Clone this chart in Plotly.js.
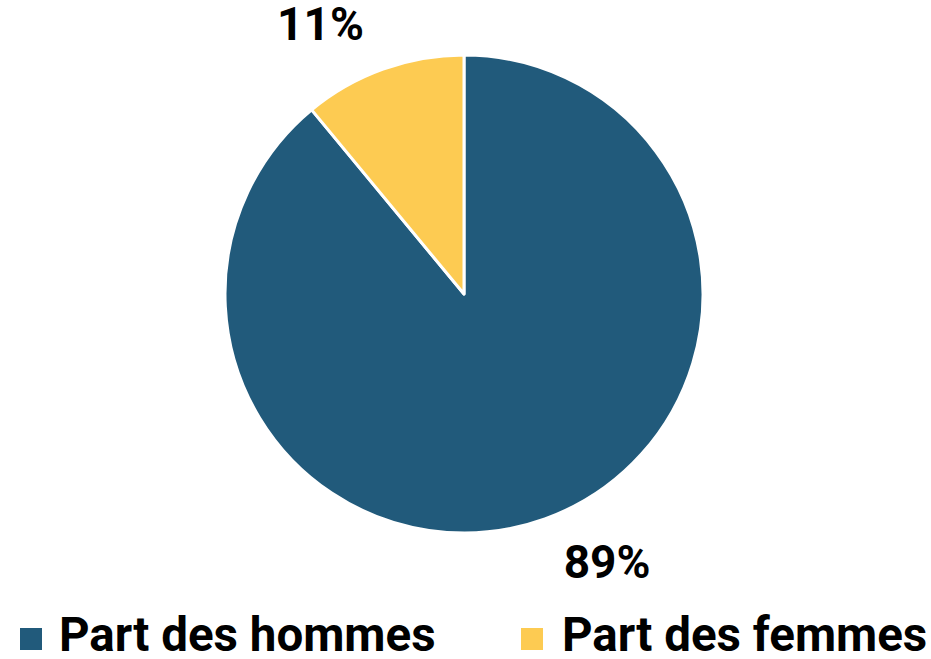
<!DOCTYPE html>
<html>
<head>
<meta charset="utf-8">
<script src="https://cdn.plot.ly/plotly-3.0.1.min.js"></script>
<style>html,body{margin:0;padding:0;background:#fff;}#chart{width:931px;height:659px;}</style>
</head>
<body>
<div id="chart"></div>
<script>
var labels = ["Part des hommes", "Part des femmes"];
var values = [89, 11];
var colors = ["#215A7B", "#FDCB52"];

var W = 931, H = 659;
function px(x) { return x / W; }
function py(y) { return 1 - y / H; }

// outside labels pushed a little further from the rim with a small spacer line
var big = '<span style="font-size:46px">%{percent}</span>';
var templates = ['&nbsp;<br>&nbsp;<br>' + big, big + '<br>&nbsp;'];

var data = [{
  type: "pie",
  labels: labels,
  values: values,
  sort: false,
  direction: "clockwise",
  rotation: 0,
  marker: {colors: colors, line: {color: "#ffffff", width: 3}},
  texttemplate: templates,
  textposition: "outside",
  outsidetextfont: {family: "Roboto", size: [18, 22], color: "#000000", weight: "bold"},
  hoverinfo: "label+percent",
  domain: {x: [px(225), px(703)], y: [py(533), py(55)]},
  automargin: false
}];

// custom legend (squares + labels) built from the arrays above
var legendMarkerX = [20, 521];
var legendTextX = [57, 560];
var shapes = [], annotations = [];
for (var i = 0; i < labels.length; i++) {
  shapes.push({
    type: "rect", xref: "paper", yref: "paper",
    x0: px(legendMarkerX[i]), x1: px(legendMarkerX[i] + 22),
    y0: py(650), y1: py(628),
    fillcolor: colors[i], line: {width: 0}
  });
  annotations.push({
    xref: "paper", yref: "paper",
    x: px(legendTextX[i]), y: py(635),
    xanchor: "left", yanchor: "middle",
    text: labels[i], showarrow: false,
    font: {family: "Roboto", size: 47.5, color: "#000000", weight: "bold"}
  });
}

var layout = {
  width: W,
  height: H,
  margin: {l: 0, r: 0, t: 0, b: 0},
  paper_bgcolor: "#ffffff",
  showlegend: false,
  shapes: shapes,
  annotations: annotations
};

Plotly.newPlot("chart", data, layout, {displayModeBar: false, staticPlot: true});
</script>
</body>
</html>
